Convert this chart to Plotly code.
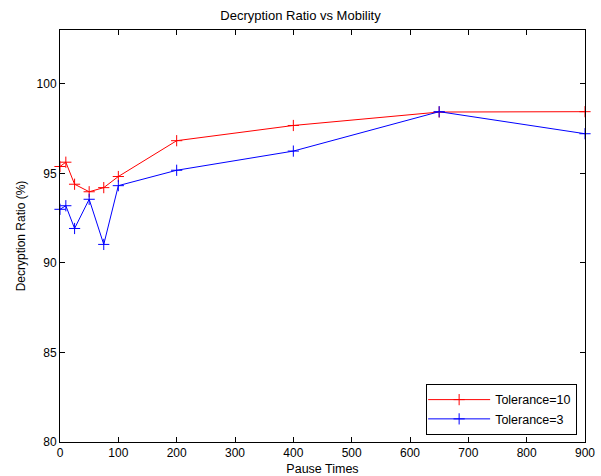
import plotly.graph_objects as go

pause_times = [0, 10, 25, 50, 75, 100, 200, 400, 650, 900]
tol10 = [95.38, 95.62, 94.39, 93.97, 94.2, 94.82, 96.82, 97.67, 98.42, 98.44]
tol3 = [92.99, 93.19, 91.92, 93.55, 91.03, 94.31, 95.17, 96.24, 98.44, 97.21]
x_ticks = [0, 100, 200, 300, 400, 500, 600, 700, 800, 900]
y_ticks = [80, 85, 90, 95, 100]

font = "Liberation Sans, Arial, Helvetica, sans-serif"

fig = go.Figure()
fig.add_trace(go.Scatter(
    x=pause_times, y=tol10, mode="lines+markers", name="Tolerance=10",
    line=dict(color="#ff0000", width=1),
    marker=dict(symbol="cross-thin", size=8, color="#ff0000",
                line=dict(color="#ff0000", width=1)),
    cliponaxis=False,
))
fig.add_trace(go.Scatter(
    x=pause_times, y=tol3, mode="lines+markers", name="Tolerance=3",
    line=dict(color="#0000ff", width=1),
    marker=dict(symbol="cross-thin", size=8, color="#0000ff",
                line=dict(color="#0000ff", width=1)),
    cliponaxis=False,
))

axis_common = dict(
    showgrid=False, zeroline=False, showline=True, linecolor="black",
    linewidth=1, mirror="ticks", ticks="inside", ticklen=5, tickcolor="black",
    tickfont=dict(family=font, size=12, color="black"), automargin=False,
)

fig.update_layout(
    width=601, height=476,
    margin=dict(l=60, r=16, t=30, b=34),
    paper_bgcolor="white", plot_bgcolor="white",
    font=dict(family=font, color="black"),
    title=dict(text="Decryption Ratio vs Mobility", x=0.5, xanchor="center",
               y=1 - 15 / 476, yanchor="middle",
               font=dict(family=font, size=13, color="black")),
    xaxis=dict(range=[0, 900], tickvals=x_ticks,
               title=dict(text="Pause Times", standoff=4,
                          font=dict(family=font, size=12.5, color="black")),
               **axis_common),
    yaxis=dict(range=[80, 103], tickvals=y_ticks,
               title=dict(text="Decryption Ratio (%)", standoff=8,
                          font=dict(family=font, size=12, color="black")),
               **axis_common),
    legend=dict(x=0.985, y=0.017, xanchor="right", yanchor="bottom",
                bgcolor="white", bordercolor="black", borderwidth=1,
                font=dict(family=font, size=12.5, color="black"),
                itemwidth=62, tracegroupgap=0, indentation=-4),
    showlegend=True,
)

fig.write_html("out.html")
